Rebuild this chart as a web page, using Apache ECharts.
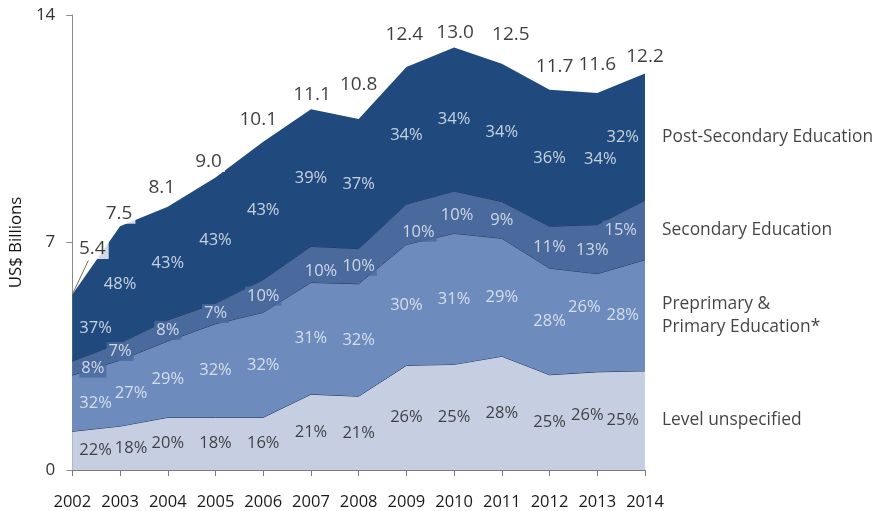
<!DOCTYPE html>
<html>
<head>
<meta charset="utf-8">
<script src="https://cdn.jsdelivr.net/npm/echarts@6/dist/echarts.min.js"></script>
<style>
  html, body { margin: 0; padding: 0; background: #ffffff; }
  #chart { width: 873px; height: 511px; }
</style>
</head>
<body>
<div id="chart"></div>
<script>
// Education aid by level, US$ billions, 2002-2014
const years = ['2002', '2003', '2004', '2005', '2006', '2007', '2008', '2009', '2010', '2011', '2012', '2013', '2014'];
const totals = [5.4, 7.5, 8.1, 9.0, 10.1, 11.1, 10.8, 12.4, 13.0, 12.5, 11.7, 11.6, 12.2];

const levelUnspecified = [1.19, 1.35, 1.62, 1.62, 1.62, 2.33, 2.27, 3.22, 3.25, 3.50, 2.93, 3.02, 3.05];
const preprimaryPrimary = [1.73, 2.03, 2.35, 2.88, 3.23, 3.44, 3.46, 3.72, 4.03, 3.63, 3.28, 3.02, 3.42];
const secondary = [0.43, 0.53, 0.65, 0.63, 1.01, 1.11, 1.08, 1.24, 1.30, 1.13, 1.29, 1.51, 1.83];
const postSecondary = [2.05, 3.59, 3.48, 3.87, 4.24, 4.22, 3.99, 4.22, 4.42, 4.24, 4.20, 4.05, 3.90];

const levelShare = [22, 18, 20, 18, 16, 21, 21, 26, 25, 28, 25, 26, 25];
const primaryShare = [32, 27, 29, 32, 32, 31, 32, 30, 31, 29, 28, 26, 28];
const secondaryShare = [8, 7, 8, 7, 10, 10, 10, 10, 10, 9, 11, 13, 15];
const postShare = [37, 48, 43, 43, 43, 39, 37, 34, 34, 34, 36, 34, 32];

const layerNames = ['Level unspecified', 'Preprimary &\nPrimary Education*', 'Secondary Education', 'Post-Secondary Education'];

// ---- styling and label placement ----
const FONT = '"Open Sans", "DejaVu Sans", sans-serif';
const fills = ['#c6cfe2', '#6d8cbd', '#4a6a9d', '#204a7e'];
const edgeColors = ['#1b2d52', '#1b2d52', '#1b2d52', '#204a7e'];
const shareColors = ['#1a1a1a', '#eef1f6', '#eef1f6', '#eef1f6'];

// pixel nudges for the total labels, relative to the top of each stack
const totalShift = [[20, -46], [-1, -13], [-6, -19], [-7, -16], [-5, -22], [1, -15], [0, -34],
                    [-2, -32], [1, -15], [9, -29], [5, -23], [0, -28], [0, -17]];
// a few hand-placed share labels: 'layer:index' -> [dx, dy]
const shareShift = {
  '0:1': [11, 0], '1:1': [11, 0],
  '0:11': [-10, -6], '1:11': [-13, -15], '2:11': [-5, 1], '3:11': [3, 0],
  '2:5': [10, 7], '2:7': [12, 8], '2:8': [3, 3]
};

const layers = [levelUnspecified, preprimaryPrimary, secondary, postSecondary];
const shares = [levelShare, primaryShare, secondaryShare, postShare];

// running base of each layer, so labels sit in the middle of their band
const bases = [];
let running = years.map(() => 0);
layers.forEach(vals => {
  bases.push(running.slice());
  running = running.map((b, i) => b + vals[i]);
});

const areaSeries = layers.map((vals, k) => ({
  type: 'line',
  name: layerNames[k],
  stack: 'total',
  data: vals,
  symbol: 'none',
  smooth: false,
  silent: true,
  lineStyle: { width: k === 3 ? 0 : 1, color: edgeColors[k] },
  areaStyle: { color: fills[k], opacity: 1 },
  z: 2 + k
}));

const last = years.length - 1;
const shareSeries = layers.map((vals, k) => ({
  type: 'scatter',
  symbolSize: 0,
  silent: true,
  z: 10,
  data: vals.map((v, i) => {
    const nudge = shareShift[k + ':' + i] || [0, 0];
    let align = 'center';
    let dx = nudge[0];
    if (i === 0) { align = 'left'; dx += 7; }
    if (i === last) { align = 'right'; dx -= 6; }
    const lbl = {
      show: true,
      position: 'inside',
      align: align,
      verticalAlign: 'middle',
      offset: [dx, nudge[1]],
      formatter: shares[k][i] + '%',
      color: shareColors[k],
      fontFamily: FONT,
      fontSize: 16.5
    };
    if (k === 2) {
      lbl.backgroundColor = fills[2];
      lbl.padding = [1, 2];
    }
    return { value: [i, bases[k][i] + v / 2], label: lbl };
  })
}));

const totalSeries = {
  type: 'scatter',
  symbolSize: 0,
  silent: true,
  z: 12,
  data: totals.map((t, i) => ({
    value: [i, t],
    label: {
      show: true,
      position: 'inside',
      align: 'center',
      verticalAlign: 'middle',
      offset: totalShift[i],
      formatter: t.toFixed(1),
      color: '#0d0d0d',
      fontFamily: FONT,
      fontSize: 19,
      backgroundColor: '#ffffff',
      padding: [1, 3]
    }
  }))
};

const nameSeries = {
  type: 'scatter',
  symbolSize: 0,
  silent: true,
  z: 12,
  data: layers.map((vals, k) => ({
    value: [last, bases[k][last] + vals[last] / 2],
    label: {
      show: true,
      position: 'right',
      distance: 17,
      align: 'left',
      verticalAlign: 'middle',
      formatter: layerNames[k],
      color: '#141414',
      fontFamily: FONT,
      fontSize: 17.4,
      lineHeight: 23
    }
  }))
};

const chart = echarts.init(document.getElementById('chart'), null, { renderer: 'canvas' });

chart.setOption({
  animation: false,
  backgroundColor: '#ffffff',
  grid: { left: 70, right: 228, top: 15, bottom: 40 },
  xAxis: {
    type: 'category',
    data: years,
    boundaryGap: false,
    axisLine: { show: true, lineStyle: { color: '#7a7a7a', width: 1 } },
    axisTick: { show: true, length: 6, alignWithLabel: true, interval: 0, lineStyle: { color: '#7a7a7a' } },
    axisLabel: { interval: 0, hideOverlap: false, color: '#1a1a1a', fontFamily: FONT, fontSize: 16.5, margin: 24 },
    splitLine: { show: false }
  },
  yAxis: {
    type: 'value',
    min: 0,
    max: 14,
    interval: 7,
    name: 'US$ Billions',
    nameLocation: 'middle',
    nameRotate: 90,
    nameGap: 46,
    nameTextStyle: { color: '#141414', fontFamily: FONT, fontSize: 16.8 },
    axisLine: { show: true, lineStyle: { color: '#8a8a8a', width: 1 } },
    axisTick: { show: true, length: 6, lineStyle: { color: '#8a8a8a' } },
    axisLabel: { color: '#333333', fontFamily: FONT, fontSize: 17, margin: 17 },
    splitLine: { show: false }
  },
  series: [...areaSeries, ...shareSeries, totalSeries, nameSeries]
});

// leader line tying the first total label to its stack top
const p0 = chart.convertToPixel({ gridIndex: 0 }, [0, totals[0]]);
chart.setOption({
  graphic: [{
    type: 'line',
    silent: true,
    z: 20,
    shape: { x1: p0[0], y1: p0[1], x2: p0[0] + totalShift[0][0] - 4, y2: p0[1] + totalShift[0][1] + 12 },
    style: { stroke: '#7a6a50', lineWidth: 1 }
  }]
});
</script>
</body>
</html>
